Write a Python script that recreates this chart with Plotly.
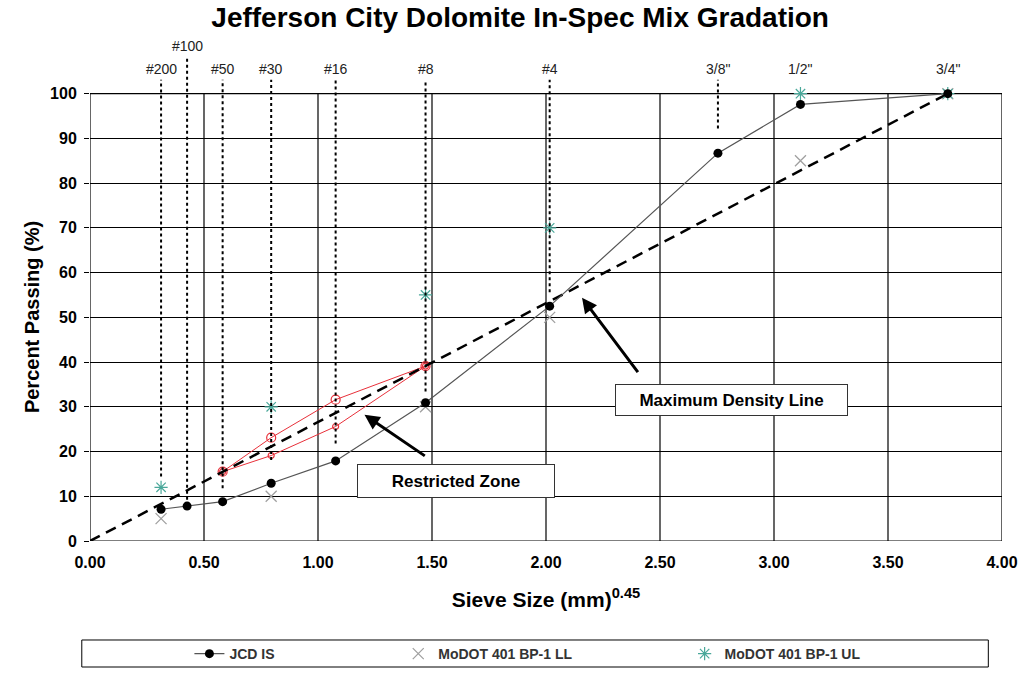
import plotly.graph_objects as go

# sieve sizes (mm) and their labels
sieve_labels = ["#200", "#100", "#50", "#30", "#16", "#8", "#4", "3/8\"", "1/2\"", "3/4\""]
sieve_mm = [0.075, 0.15, 0.3, 0.6, 1.18, 2.36, 4.75, 9.5, 12.5, 19.0]

# JCD IS gradation (% passing)
jcd_passing = [7.1, 7.8, 8.8, 12.9, 17.9, 30.9, 52.5, 86.7, 97.6, 100]

# MoDOT 401 BP-1 control points
spec_sieves = ["#200", "#30", "#8", "#4", "1/2\"", "3/4\""]
spec_ll = [5, 10, 30, 50, 85, 100]
spec_ul = [12, 30, 55, 70, 100, 100]

# Superpave restricted zone
rz_sieves = ["#50", "#30", "#16", "#8"]
rz_upper = [15.5, 23.1, 31.6, 39.1]
rz_lower = [15.5, 19.1, 25.6, 39.1]

# how far each dotted sieve guide drops into the chart (% passing)
guide_bottom = [14.4, 9.2, 11.8, 18.1, 21.8, 33.4, 55.6, 92.2, None, None]

FONT = "Liberation Sans, Arial, sans-serif"


def xpow(mm):
    return mm ** 0.45


sx = {lab: xpow(mm) for lab, mm in zip(sieve_labels, sieve_mm)}

fig = go.Figure()

# ── restricted zone ─────────────────────────────
for vals, size in [(rz_upper, 9), (rz_lower, 6)]:
    fig.add_trace(go.Scatter(
        x=[sx[s] for s in rz_sieves], y=vals, mode="lines+markers",
        line=dict(color="#e8303a", width=1),
        marker=dict(symbol="circle-open", size=size, color="#e8303a", line=dict(width=1.2)),
        showlegend=False, hoverinfo="skip",
    ))

# ── maximum density line ────────────────────────
fig.add_trace(go.Scatter(
    x=[0, xpow(max(sieve_mm))], y=[0, 100], mode="lines",
    line=dict(color="black", width=2.5, dash="11px,7px"),
    showlegend=False, hoverinfo="skip",
))

# ── spec points ────────────────────────────────
fig.add_trace(go.Scatter(
    x=[sx[s] for s in spec_sieves], y=spec_ll, mode="markers",
    marker=dict(symbol="x-thin-open", size=11, color="#a0a0a0", line=dict(width=1.3, color="#a0a0a0")),
    name="MoDOT 401 BP-1 LL", legend="legend2",
))
fig.add_trace(go.Scatter(
    x=[sx[s] for s in spec_sieves], y=spec_ul, mode="markers",
    marker=dict(symbol="asterisk-open", size=11, color="#4aa89a", line=dict(width=1.2, color="#4aa89a")),
    name="MoDOT 401 BP-1 UL", legend="legend3",
))

# ── JCD IS gradation ───────────────────────────
fig.add_trace(go.Scatter(
    x=[xpow(m) for m in sieve_mm], y=jcd_passing, mode="lines+markers",
    line=dict(color="#555555", width=1.2),
    marker=dict(symbol="circle", size=9, color="black"),
    name="JCD IS", legend="legend",
))

# ── sieve guides + labels ──────────────────────
for lab, mm, bot in zip(sieve_labels, sieve_mm, guide_bottom):
    x = xpow(mm)
    top = 108.0 if lab == "#100" else 103.1
    ylab = 110.6 if lab == "#100" else 105.6
    if bot is not None:
        fig.add_shape(type="line", x0=x, x1=x, y0=bot, y1=top, layer="above",
                      line=dict(color="black", width=2, dash="dot"))
    fig.add_annotation(x=x, y=ylab, text=lab, showarrow=False,
                       font=dict(family=FONT, size=14, color="#222"))

# vertical gridlines + plot frame
for gx in [0.5, 1.0, 1.5, 2.0, 2.5, 3.0, 3.5]:
    fig.add_shape(type="line", x0=gx, x1=gx, y0=0, y1=100, layer="below",
                  line=dict(color="black", width=1.2))
fig.add_shape(type="rect", x0=0, x1=4, y0=0, y1=100, layer="below",
              line=dict(color="black", width=1.2))

# ── callouts ───────────────────────────────────
fig.add_annotation(x=2.815, y=31.5, text="<b>Maximum Density Line</b>", showarrow=False,
                   font=dict(family=FONT, size=17, color="black"),
                   bgcolor="white", bordercolor="#333", borderwidth=1, borderpad=3,
                   width=225, height=24)
fig.add_annotation(x=2.158, y=54.4, ax=2.408, ay=37.4, xref="x", yref="y", axref="x", ayref="y",
                   text="", showarrow=True, arrowhead=2, arrowsize=1, arrowwidth=3, arrowcolor="black")
fig.add_annotation(x=1.607, y=13.4, text="<b>Restricted Zone</b>", showarrow=False,
                   font=dict(family=FONT, size=17, color="black"),
                   bgcolor="white", bordercolor="#333", borderwidth=1, borderpad=3,
                   width=190, height=26)
fig.add_annotation(x=1.204, y=28.2, ax=1.475, ay=18.8, xref="x", yref="y", axref="x", ayref="y",
                   text="", showarrow=True, arrowhead=2, arrowsize=1, arrowwidth=3, arrowcolor="black")

# y axis title
fig.add_annotation(x=-0.077, y=50, xref="paper", yref="y", text="<b>Percent Passing (%)</b>",
                   textangle=-90, showarrow=False, font=dict(family=FONT, size=20, color="black"))

# legend frame
fig.add_shape(type="rect", xref="paper", yref="paper", x0=-0.009, x1=0.985, y0=-0.2515, y1=-0.1976,
              line=dict(color="black", width=1), fillcolor="white")

legend_style = dict(orientation="h", yanchor="middle", y=0.0325, yref="container", xanchor="left",
                    bgcolor="rgba(0,0,0,0)", borderwidth=0,
                    font=dict(family=FONT, size=14, color="#333", weight="bold"))

fig.update_layout(
    title=dict(text="<b>Jefferson City Dolomite In-Spec Mix Gradation</b>", x=0.505, xref="container",
               y=0.975, yref="container", yanchor="middle",
               font=dict(family=FONT, size=28, color="black")),
    width=1030, height=676,
    margin=dict(l=90, r=26, t=40, b=135),
    plot_bgcolor="white", paper_bgcolor="white",
    font=dict(family=FONT, color="black"),
    xaxis=dict(range=[0, 4], tickvals=[0, 0.5, 1, 1.5, 2, 2.5, 3, 3.5, 4], tickformat=".2f",
               showgrid=False, zeroline=False, showline=False, ticks="", ticklabelstandoff=10,
               tickfont=dict(family=FONT, size=16, weight="bold"),
               title=dict(text="<b>Sieve Size (mm)<sup>0.45</sup></b>", standoff=22,
                          font=dict(family=FONT, size=21))),
    yaxis=dict(range=[0, 112], tickvals=list(range(0, 101, 10)),
               showgrid=True, gridcolor="black", gridwidth=1, zeroline=False, showline=False,
               ticks="outside", ticklen=5, tickcolor="black", ticklabelstandoff=4,
               tickfont=dict(family=FONT, size=16, weight="bold")),
    legend=dict(x=0.109, **legend_style),
    legend2=dict(x=0.338, **legend_style),
    legend3=dict(x=0.652, **legend_style),
    showlegend=True,
)

fig.write_html("out.html", config={"displayModeBar": False},
               post_script="document.body.style.margin='0';")
